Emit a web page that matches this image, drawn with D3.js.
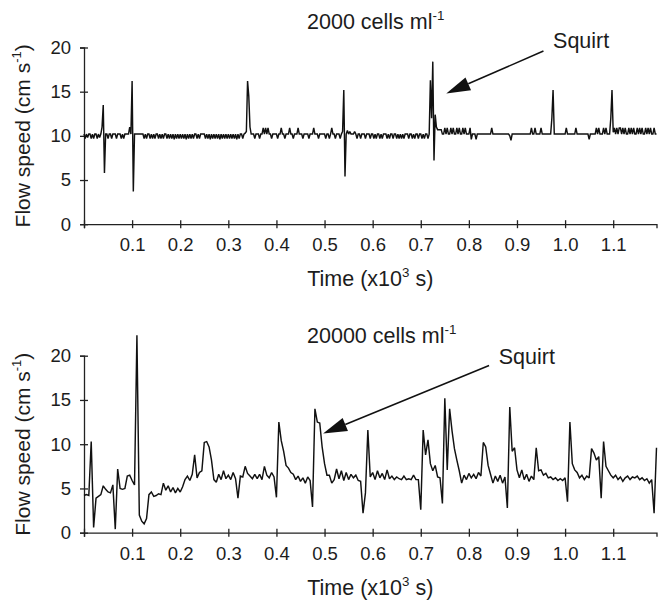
<!DOCTYPE html>
<html><head><meta charset="utf-8">
<script src="https://cdn.jsdelivr.net/npm/d3@7"></script>
<style>
body{margin:0;background:#fff}
text{font-family:"Liberation Sans",Arial,Helvetica,sans-serif;fill:#1c1c1c}
</style>
</head><body>
<svg id="chart" width="658" height="606"></svg>
<script>
// ---------------- data ----------------
// sampling step (x10^3 s) of each trace
const stepLow = 0.0025;
const stepHigh = 0.005;

// 2000 cells ml-1 : flow speed (cm s-1), one value per stepLow from t = 0
const speedLow = [
10.2,9.7,10.2,9.8,10.2,10.2,9.7,10.2,9.7,10.2,10.2,9.7,10.2,9.8,10.2,11.0,13.5,5.8,10.2,10.2,9.7,10.2,10.2,9.7,10.2,10.2,10.2,9.7,10.2,10.2,10.2,9.7,10.2,9.7,10.2,10.2,10.2,10.2,11.0,10.2,
16.2,3.7,10.2,10.2,10.2,10.2,10.2,10.2,10.2,10.2,9.7,10.2,9.7,10.2,10.2,9.7,10.2,9.7,10.2,9.7,10.2,10.2,9.7,10.2,9.7,10.2,9.7,10.2,10.2,9.7,10.2,9.7,10.2,9.7,10.2,9.6,10.2,9.7,10.2,9.7,
10.2,9.7,10.2,9.7,10.2,9.6,10.2,9.7,10.2,9.7,10.2,9.7,10.2,10.2,9.7,10.2,9.7,10.2,10.2,10.2,10.2,9.7,10.2,9.7,10.2,9.6,10.2,9.7,10.2,9.7,10.2,9.7,10.2,9.6,10.2,9.7,10.2,9.7,10.2,9.7,
10.2,9.7,10.2,9.7,10.2,9.7,10.2,9.6,10.2,9.7,10.2,10.2,9.7,10.2,10.3,10.5,16.2,14.5,11.0,10.2,10.2,10.2,9.7,10.2,10.2,10.2,9.7,10.2,10.2,10.9,10.2,10.9,10.2,10.9,10.2,10.2,9.7,10.2,10.2,10.2,
10.2,9.7,10.2,10.2,10.9,10.2,10.2,9.7,10.2,10.2,10.2,10.9,10.2,10.2,9.7,10.2,10.2,10.2,10.9,10.2,10.2,10.2,9.7,10.2,10.2,10.2,10.2,9.7,10.2,10.2,10.2,10.9,10.2,10.2,10.2,9.7,10.2,10.2,10.2,10.2,
10.2,9.7,10.2,10.2,9.7,10.2,10.9,10.2,10.2,9.7,10.2,10.2,10.2,9.7,10.2,10.5,15.2,5.4,10.2,10.6,10.2,10.5,10.2,10.2,10.2,10.5,10.2,9.7,10.2,10.2,9.7,10.2,10.2,10.2,9.7,10.2,10.2,10.2,9.7,10.2,
10.2,9.7,10.2,9.7,10.2,10.2,9.7,10.2,9.7,10.2,10.2,10.2,9.7,10.2,9.7,10.2,10.2,9.7,10.2,10.2,9.7,10.2,9.7,10.2,9.7,10.2,9.7,10.2,10.2,10.2,9.7,10.2,10.2,9.7,10.2,9.7,10.2,10.2,9.7,10.2,
10.2,9.7,10.2,9.7,10.2,10.2,9.7,10.2,16.3,12.0,18.4,7.2,12.4,11.0,10.7,10.7,10.7,10.7,10.2,10.2,10.9,10.2,10.9,10.2,10.2,10.9,10.2,10.9,10.2,10.2,10.9,10.2,10.9,10.2,10.2,10.9,10.2,10.9,10.2,10.2,
10.2,10.9,9.6,10.2,10.2,10.2,9.6,10.2,10.2,10.2,10.2,10.2,10.2,10.2,10.2,10.2,10.2,10.2,10.2,10.9,10.2,10.2,10.2,10.2,10.2,10.2,10.2,10.2,10.2,10.2,10.2,10.2,10.2,10.2,10.0,9.5,10.2,10.2,10.2,10.2,
10.2,10.2,10.2,10.2,10.2,10.2,10.2,10.2,10.2,10.2,10.2,10.2,10.9,10.2,10.2,10.9,10.2,10.2,10.2,10.2,10.9,10.2,10.2,10.2,10.2,10.2,10.2,10.2,10.2,12.0,15.2,10.2,10.2,10.2,10.2,10.2,10.2,10.2,10.2,10.2,
10.2,10.9,10.2,10.2,10.2,10.2,10.2,10.2,10.2,10.9,10.2,10.2,10.2,10.2,10.2,10.2,10.2,10.2,10.2,10.2,9.6,10.2,10.2,10.2,10.2,10.2,10.9,10.2,10.9,10.2,10.2,10.2,10.9,10.2,10.9,10.2,10.2,10.2,12.0,15.2,
10.4,10.9,10.2,10.9,10.2,10.9,10.9,10.2,10.9,10.2,10.9,10.2,10.2,10.9,10.2,10.9,10.2,10.9,10.2,10.2,10.9,10.2,10.9,10.2,10.9,10.2,10.2,10.9,10.2,10.9,10.2,10.9,10.2,10.2,10.9,10.2,10.2
];

// 20000 cells ml-1 : flow speed (cm s-1), one value per stepHigh from t = 0
const speedHigh = [
4.2,4.3,4.2,10.3,0.6,3.9,4.1,4.3,5.3,4.9,
4.6,4.5,5.4,0.4,7.2,5.0,4.9,5.0,6.4,6.5,
5.9,5.4,22.3,2.0,1.3,1.0,1.6,4.3,4.6,4.1,
4.2,4.4,4.3,5.6,4.8,5.3,4.6,5.1,4.5,5.0,
4.6,5.2,6.0,6.4,5.9,6.6,8.8,6.2,6.8,7.0,
10.2,10.3,9.7,8.2,6.0,5.7,6.6,6.0,7.0,6.1,
6.5,6.0,6.8,6.1,3.9,6.4,6.3,7.5,6.7,6.4,
6.1,6.6,6.1,6.6,6.0,7.5,6.5,6.2,6.8,6.3,
4.0,12.5,10.4,9.2,7.6,7.3,6.8,6.6,6.0,6.4,
5.8,6.2,5.6,6.3,5.9,2.9,14.0,12.5,12.4,9.7,
7.8,6.5,6.5,5.6,6.0,7.2,6.1,7.0,5.9,6.8,
6.0,6.6,6.2,6.5,5.9,5.8,2.2,4.5,11.6,6.3,
6.8,6.0,7.0,6.2,6.7,6.0,7.1,6.1,6.4,6.0,
6.3,6.1,6.0,6.4,6.0,6.1,6.0,6.5,6.0,6.0,
2.6,11.6,8.8,10.5,7.8,7.0,7.6,6.3,6.2,3.3,
15.2,7.1,14.0,11.5,9.5,8.2,7.0,5.6,6.5,6.0,
6.7,6.2,6.6,6.1,6.8,6.4,10.2,9.7,7.6,6.6,
5.6,6.4,5.8,6.5,5.6,6.3,2.8,14.2,9.2,9.6,
7.1,6.2,7.1,6.0,6.6,5.8,6.4,6.0,9.6,7.0,
7.1,6.5,6.7,6.2,6.3,6.0,6.2,5.9,6.1,5.9,
6.2,3.5,12.5,7.8,7.1,6.8,6.2,6.5,6.0,6.4,
6.2,9.5,9.0,8.2,8.6,3.9,10.3,7.5,7.0,6.5,
6.2,6.5,6.0,6.3,5.8,6.2,6.4,6.0,6.3,6.2,
6.4,6.0,6.2,5.9,6.1,5.6,6.0,2.2,9.6
];

const xTickValues = [0,0.1,0.2,0.3,0.4,0.5,0.6,0.7,0.8,0.9,1.0,1.1];
const xTickLabels = ["","0.1","0.2","0.3","0.4","0.5","0.6","0.7","0.8","0.9","1.0","1.1"];
const yTickValues = [0,5,10,15,20];
const timeDomain = [0,1.19];
const speedDomain = [0,20];
const panelTitles = ["2000 cells ml", "20000 cells ml"];
const annotationText = "Squirt";
// arrow annotations in data units [time, speed]
const squirtLow  = {label:[0.975,19.95], from:[0.955,19.6], to:[0.753,14.8]};
const squirtHigh = {label:[0.862,19.1], from:[0.842,18.9], to:[0.497,11.2]};

// ---------------- layout ----------------
const svg = d3.select("#chart");
const xRange = [84, 656.5];
const panels = [
  {values:speedLow, step:stepLow, title:panelTitles[0], yRange:[224.2,47.5], titleGap:18.5, squirt:squirtLow},
  {values:speedHigh, step:stepHigh, title:panelTitles[1], yRange:[532.7,355.7], titleGap:13, squirt:squirtHigh}
];
const tickFont = 18.5, labelFont = 21.5, axisLabelFont = 21;

function addSup(sel, base, sup, tail, fs){
  sel.append("tspan").text(base);
  sel.append("tspan").attr("font-size", fs*0.62).attr("dy", -fs*0.42).text(sup);
  if (tail) sel.append("tspan").attr("dy", fs*0.42).text(tail);
}

panels.forEach(p => {
  const x = d3.scaleLinear().domain(timeDomain).range(xRange);
  const y = d3.scaleLinear().domain(speedDomain).range(p.yRange);
  const g = svg.append("g");

  // x axis
  const xa = g.append("g").attr("transform", `translate(0,${y(0)})`)
    .call(d3.axisBottom(x).tickValues(xTickValues)
      .tickFormat((d,i)=>xTickLabels[i]).tickSizeOuter(0).tickSize(4).tickPadding(10));
  xa.selectAll(".tick line").attr("y1",-4).attr("y2",4);
  xa.selectAll("text").attr("font-size", tickFont).style("font-family","Liberation Sans, Arial, sans-serif").attr("fill","#1c1c1c");
  xa.select(".domain").attr("stroke","#222").attr("stroke-width",1.3);
  xa.selectAll(".tick line").attr("stroke","#222").attr("stroke-width",1.3);

  // y axis
  const ya = g.append("g").attr("transform", `translate(${x(0)},0)`)
    .call(d3.axisLeft(y).tickValues(yTickValues).tickSizeOuter(0).tickSize(4).tickPadding(9));
  ya.selectAll(".tick line").attr("x1",-4).attr("x2",4);
  ya.selectAll("text").attr("font-size", tickFont).style("font-family","Liberation Sans, Arial, sans-serif").attr("fill","#1c1c1c");
  ya.select(".domain").attr("stroke","#222").attr("stroke-width",1.3);
  ya.selectAll(".tick line").attr("stroke","#222").attr("stroke-width",1.3);

  // trace
  const line = d3.line().x((d,i)=>x(i*p.step)).y(d=>y(d));
  g.append("path").datum(p.values).attr("d", line)
    .attr("fill","none").attr("stroke","#111").attr("stroke-width",1.45)
    .attr("stroke-linejoin","miter").attr("stroke-miterlimit",2);

  // title
  const t = g.append("text").attr("x", x(0.4636)).attr("y", y(20)-p.titleGap)
    .attr("font-size", labelFont);
  addSup(t, p.title, "-1", null, labelFont);

  // x label
  const xl = g.append("text").attr("x", (xRange[0]+xRange[1])/2).attr("y", y(0)+62)
    .attr("text-anchor","middle").attr("font-size", labelFont);
  addSup(xl, "Time (x10", "3", " s)", labelFont);

  // y label
  const cy = (p.yRange[0]+p.yRange[1])/2;
  const yl = g.append("text").attr("transform", `translate(30,${cy}) rotate(-90)`)
    .attr("text-anchor","middle").attr("font-size", axisLabelFont);
  addSup(yl, "Flow speed (cm s", "-1", ")", axisLabelFont);

  // squirt annotation
  const s = p.squirt;
  g.append("text").attr("x", x(s.label[0])).attr("y", y(s.label[1]))
    .attr("font-size", labelFont).text(annotationText);
  const x1 = x(s.from[0]), y1 = y(s.from[1]), x2 = x(s.to[0]), y2 = y(s.to[1]);
  const ang = Math.atan2(y2-y1, x2-x1), L = 24, hw = 7;
  const bx = x2 - L*Math.cos(ang), by = y2 - L*Math.sin(ang);
  g.append("line").attr("x1",x1).attr("y1",y1).attr("x2",bx).attr("y2",by)
    .attr("stroke","#111").attr("stroke-width",1.6);
  const px = -Math.sin(ang)*hw, py = Math.cos(ang)*hw;
  g.append("path").attr("d", `M${x2},${y2}L${bx+px},${by+py}L${bx-px},${by-py}Z`).attr("fill","#111");
});
</script>
</body></html>
